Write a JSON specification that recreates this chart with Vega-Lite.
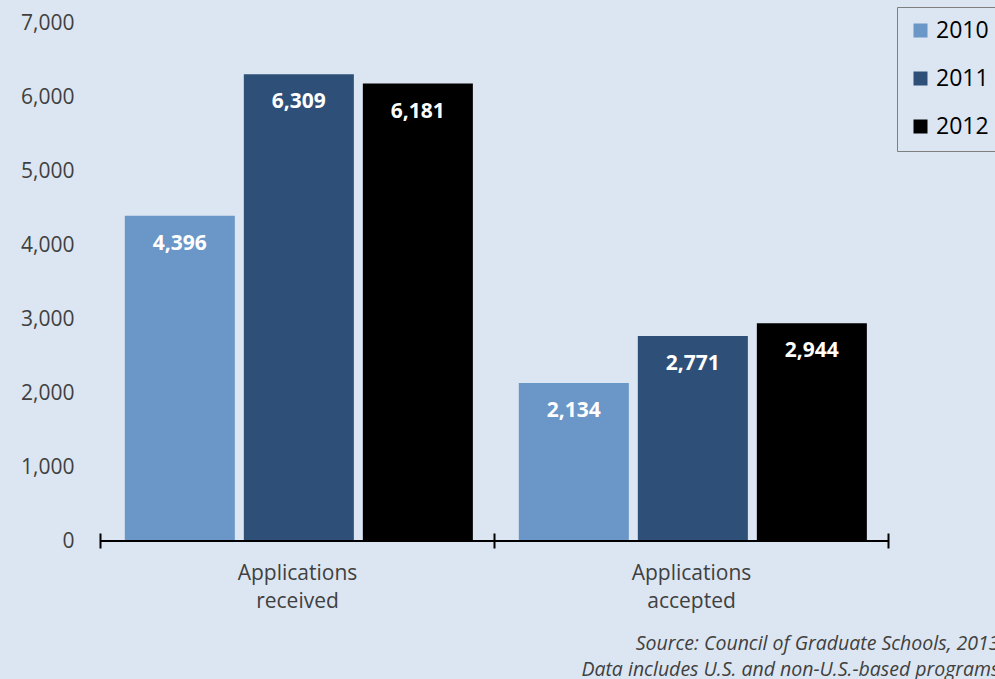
{
  "$schema": "https://vega.github.io/schema/vega-lite/v6.json",
  "width": 788,
  "height": 518,
  "autosize": {"type": "none"},
  "padding": {"left": 100, "top": 23, "right": 107, "bottom": 138},
  "background": "#dce6f2",
  "config": {"view": {"stroke": null}, "font": "Open Sans"},
  "data": {
    "values": [
      {"category": "Applications received", "year": "2010", "value": 4396},
      {"category": "Applications received", "year": "2011", "value": 6309},
      {"category": "Applications received", "year": "2012", "value": 6181},
      {"category": "Applications accepted", "year": "2010", "value": 2134},
      {"category": "Applications accepted", "year": "2011", "value": 2771},
      {"category": "Applications accepted", "year": "2012", "value": 2944}
    ]
  },
  "title": {
    "text": ["Source: Council of Graduate Schools, 2013", "Data includes U.S. and non-U.S.-based programs"],
    "orient": "bottom",
    "anchor": "end",
    "align": "right",
    "fontStyle": "italic",
    "fontWeight": "normal",
    "fontSize": 19.5,
    "lineHeight": 26,
    "color": "#404040",
    "dx": -2,
    "offset": 24
  },
  "encoding": {
    "y": {
      "field": "value",
      "type": "quantitative",
      "scale": {"domain": [0, 7000], "nice": false},
      "axis": {
        "title": null,
        "domain": false,
        "ticks": false,
        "grid": false,
        "values": [0, 1000, 2000, 3000, 4000, 5000, 6000, 7000],
        "labelExpr": "format(datum.value, ',')",
        "labelPadding": 26,
        "labelFontSize": 21,
        "labelColor": "#404040"
      }
    }
  },
  "layer": [
    {
      "mark": {"type": "bar"},
      "encoding": {
        "x": {
          "field": "category",
          "type": "nominal",
          "sort": ["Applications received", "Applications accepted"],
          "scale": {"paddingInner": 0, "paddingOuter": 0},
          "axis": {
            "title": null,
            "domain": false,
            "ticks": true,
            "tickBand": "extent",
            "tickColor": "#000000",
            "tickWidth": 2,
            "tickSize": 15,
            "offset": -8,
            "labelPadding": 14,
            "labelAngle": 0,
            "labelFontSize": 21,
            "labelColor": "#404040",
            "labelLineHeight": 28,
            "labelBaseline": "top",
            "labelExpr": "datum.value ? split(datum.value, ' ') : ''"
          }
        },
        "xOffset": {
          "field": "year",
          "type": "nominal",
          "scale": {"paddingInner": 0.0756, "paddingOuter": 0.193, "align": 0.54}
        },
        "color": {
          "field": "year",
          "type": "nominal",
          "scale": {"domain": ["2010", "2011", "2012"], "range": ["#6a96c8", "#2e4f77", "#000000"]},
          "legend": {
            "orient": "none",
            "legendX": 797,
            "legendY": -16,
            "title": null,
            "symbolType": "square",
            "symbolSize": 196,
            "symbolStrokeWidth": 0,
            "labelFontSize": 23,
            "labelColor": "#000000",
            "labelOffset": 4,
            "strokeColor": "#7f7f7f",
            "fillColor": "#dce6f2",
            "padding": 12,
            "rowPadding": 24
          }
        }
      }
    },
    {
      "mark": {"type": "text", "color": "#ffffff", "fontWeight": "bold", "fontSize": 21, "baseline": "middle", "align": "center", "dy": 28},
      "encoding": {
        "x": {"field": "category", "type": "nominal", "sort": ["Applications received", "Applications accepted"]},
        "xOffset": {"field": "year", "type": "nominal"},
        "text": {"field": "value", "type": "quantitative", "format": ","}
      }
    },
    {
      "mark": {"type": "rule", "color": "#000000", "strokeWidth": 2},
      "encoding": {"y": {"datum": 0}}
    }
  ]
}
